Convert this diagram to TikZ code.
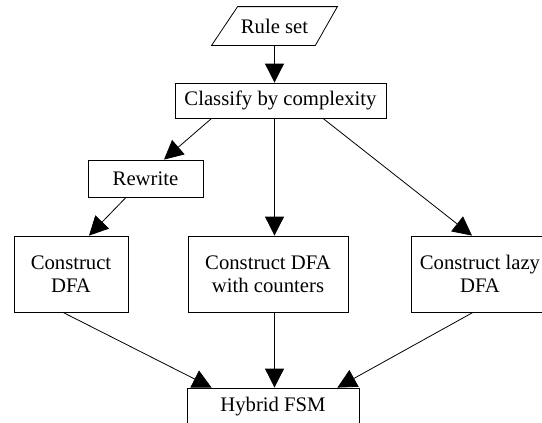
\documentclass[tikz,border=0pt]{standalone}
\usepackage{fontspec}
\setmainfont{Liberation Serif}
\usetikzlibrary{arrows.meta,calc}
\begin{document}
\begin{tikzpicture}[x=1pt,y=-1pt,
  label font/.style={font=\fontsize{20.7pt}{23pt}\selectfont},
  box/.style={draw, line width=0.8pt, inner sep=0pt, align=center, label font},
  arr/.style={-{Triangle[length=19pt,width=19pt]}, line width=0.8pt},
]
\useasboundingbox (0,0) rectangle (542,423);

% input: parallelogram drawn around an invisible node
\node[box, draw=none, minimum width=125pt, minimum height=38pt] (rs) at (274.5,26) {Rule set};
\draw[line width=0.8pt] ($(rs.north west)+(26,0)$) -- (rs.north east)
  -- ($(rs.south east)+(-22,0)$) -- (rs.south west) -- cycle;

% process boxes
\node[box, minimum width=211pt, minimum height=35pt] (cl) at (280.5,100.5) {Classify by complexity};
\node[box, minimum width=115pt, minimum height=37pt] (rw) at (145.5,178.5) {Rewrite};
\node[box, minimum width=114pt, minimum height=76pt] (dfa) at (71,274) {Construct\\DFA};
\node[box, minimum width=160pt, minimum height=76pt] (cnt) at (268,274) {Construct DFA\\with counters};
\node[box, minimum width=138pt, minimum height=76pt] (lazy) at (480,274) {Construct lazy\\DFA};
\node[box, minimum width=172pt, minimum height=37pt] (hyb) at (273,406.5) {Hybrid FSM};

% connectors
\draw[arr] (rs.south) -- (cl.north -| rs.south);
\draw[arr] ($(cl.south west)+(37,0)$) -- ($(rw.north)+(18.5,0)$);
\draw[arr] ($(rw.south)+(-19.5,0)$) -- ($(dfa.north)+(18,0)$);
\draw[arr] (cl.south -| rs.south) -- (cnt.north -| rs.south);
\draw[arr] ($(cl.south)+(42.5,0)$) -- ($(lazy.north)+(-8,0)$);
\draw[arr] ($(dfa.south)+(-8,0)$) -- ($(hyb.north west)+(25,0)$);
\draw[arr] (cnt.south -| rs.south) -- (hyb.north -| rs.south);
\draw[arr] ($(lazy.south)+(-7,0)$) -- ($(hyb.north east)+(-22,0)$);
\end{tikzpicture}
\end{document}
